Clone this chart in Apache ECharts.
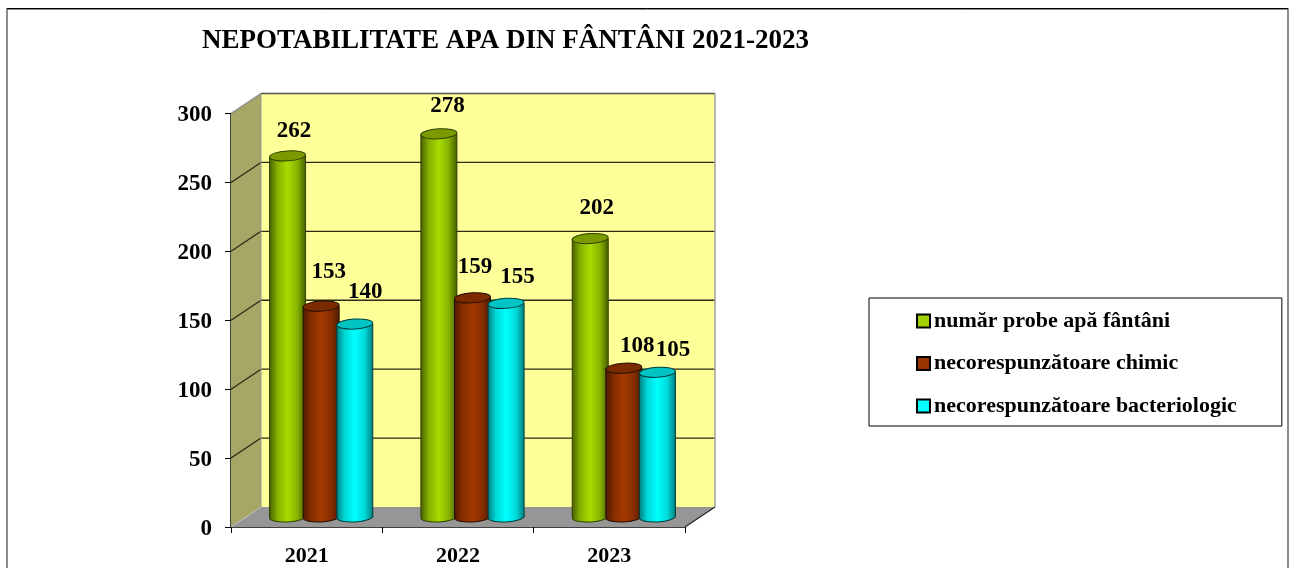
<!DOCTYPE html>
<html>
<head>
<meta charset="utf-8">
<title>Nepotabilitate apa din fantani</title>
<script src="https://cdn.jsdelivr.net/npm/echarts@6/dist/echarts.min.js"></script>
<style>
  html, body { margin: 0; padding: 0; background: #fff; overflow: hidden; }
  #chart { width: 1293px; height: 568px; }
</style>
</head>
<body>
<div id="chart"></div>
<script>
const categories = ['2021', '2022', '2023']
const seriesNames = ['număr probe apă fântâni', 'necorespunzătoare chimic', 'necorespunzătoare bacteriologic']
const probe = [262, 278, 202]
const chimic = [153, 159, 108]
const bacteriologic = [140, 155, 105]
const yTicks = [0, 50, 100, 150, 200, 250, 300]

// hand placement of the value labels, relative to the top of each cylinder
const labelShiftX = [[6.5, 8.5, 6.5], [7.5, 2.5, 13.5], [10.5, 11.5, 15.5]]
const labelShiftY = [[-25, -28, -31], [-34, -31, -22], [-32, -26, -22]]

const FONT = '"Liberation Serif", "Times New Roman", serif'
const DX = 29 // depth of the fake 3d box, the cylinders stand a bit left of centre
const DY = -20
const PITCH = 33.6
const BAR_W = 36
const RY = 5
const TILT = 0.06

const palette = [
  { legend: '#a0d000', top: '#7a9a00', edge: '#2f4000', stops: ['#4a6200', '#86b000', '#a8dc00', '#86b000', '#466000'] },
  { legend: '#993300', top: '#7c2a00', edge: '#241000', stops: ['#4f1a00', '#862c00', '#a23a00', '#862c00', '#4f1a00'] },
  { legend: '#00ffff', top: '#00c4c4', edge: '#003c3c', stops: ['#008080', '#00d8d8', '#00ffff', '#00d8d8', '#008080'] }
]
const values = [probe, chimic, bacteriologic]

function gradient(stops) {
  return new echarts.graphic.LinearGradient(0, 0, 1, 0, [
    { offset: 0, color: stops[0] },
    { offset: 0.22, color: stops[1] },
    { offset: 0.5, color: stops[2] },
    { offset: 0.78, color: stops[3] },
    { offset: 1, color: stops[4] }
  ])
}

function poly(points, fill, z2) {
  return { type: 'polygon', z2: z2, shape: { points: points }, style: { fill: fill, stroke: null } }
}

function seg(x1, y1, x2, y2, color, width, z2) {
  return { type: 'line', z2: z2 || 2, shape: { x1: x1, y1: y1, x2: x2, y2: y2 }, style: { stroke: color, lineWidth: width || 1 } }
}

// walls, floor and the gridlines that run across them
function renderBox(params, api) {
  const first = api.coord([0, 0])
  const band = api.size([1, 0])[0]
  const left = first[0] - band / 2
  const right = left + band * categories.length
  const y0 = first[1]
  const y1 = api.coord([0, 300])[1]
  const bx = 30
  const children = [
    poly([[left + bx, y1 + DY], [right + bx, y1 + DY], [right + bx, y0 + DY], [left + bx, y0 + DY]], '#ffff99', 0),
    poly([[left, y1], [left + bx, y1 + DY], [left + bx, y0 + DY], [left, y0]], '#a6a666', 0),
    poly([[left, y0], [left + bx, y0 + DY], [right + bx, y0 + DY], [right, y0]], '#969696', 0)
  ]
  yTicks.forEach(function(t) {
    if (t === 0) return
    const y = api.coord([0, t])[1]
    const col = t === 300 ? '#8a8a8a' : '#2b2b16'
    children.push(seg(left, y, left + bx, y + DY, col, 1.3))
    children.push(seg(left + bx, y + DY, right + bx, y + DY, t === 300 ? '#555' : '#2b2b16', 1.3))
  })
  children.push(seg(left + bx, y1 + DY, left + bx, y0 + DY, '#9a9a9a', 1))
  children.push(seg(right + bx, y1 + DY, right + bx, y0 + DY, '#a0a0a0', 1.5))
  children.push(seg(left, y0, left + bx, y0 + DY, '#bdbdbd', 1))
  children.push(seg(right, y0, right + bx, y0 + DY, '#222', 1.2))
  return { type: 'group', children: children }
}

function barGeom(api, idx) {
  const cat = api.value(0)
  const base = api.coord([cat, 0])
  const top = api.coord([cat, api.value(1)])
  return {
    cx: base[0] + DX / 2 + (idx - 1) * PITCH,
    yBase: base[1] + DY / 2,
    yTop: top[1] + DY / 2
  }
}

function rim(cx, cy, fill, stroke, z2) {
  return {
    type: 'ellipse',
    z2: z2,
    x: cx,
    y: cy,
    rotation: TILT,
    shape: { cx: 0, cy: 0, rx: BAR_W / 2, ry: RY },
    style: { fill: fill, stroke: stroke, lineWidth: 1 }
  }
}

function renderBody(idx) {
  return function(params, api) {
    const g = barGeom(api, idx)
    const p = palette[idx]
    const x = g.cx - BAR_W / 2
    const fill = gradient(p.stops)
    return {
      type: 'group',
      children: [
        rim(g.cx, g.yBase, fill, p.edge, 1),
        { type: 'rect', z2: 2, shape: { x: x, y: g.yTop, width: BAR_W, height: g.yBase - g.yTop }, style: { fill: fill, stroke: null } },
        seg(x, g.yTop, x, g.yBase, p.edge, 1, 3),
        seg(x + BAR_W, g.yTop, x + BAR_W, g.yBase, p.edge, 1, 3)
      ]
    }
  }
}

function renderTop(idx) {
  return function(params, api) {
    const g = barGeom(api, idx)
    const p = palette[idx]
    return {
      type: 'group',
      children: [
        rim(g.cx, g.yTop, p.top, p.edge, 1),
        {
          type: 'text',
          z2: 5,
          style: {
            text: String(api.value(1)),
            x: g.cx + labelShiftX[idx][params.dataIndex],
            y: g.yTop + labelShiftY[idx][params.dataIndex],
            align: 'center',
            verticalAlign: 'middle',
            fontFamily: FONT,
            fontWeight: 'bold',
            fontSize: 23,
            fill: '#000'
          }
        }
      ]
    }
  }
}

const series = [{
  type: 'custom',
  name: 'box',
  z: 1,
  silent: true,
  clip: false,
  renderItem: renderBox,
  encode: { x: 0, y: 1 },
  data: [[0, 0]]
}]
values.forEach(function(arr, idx) {
  const data = arr.map(function(v, i) { return [i, v] })
  series.push({ type: 'custom', name: seriesNames[idx], z: 3 + idx, clip: false, renderItem: renderBody(idx), encode: { x: 0, y: 1 }, data: data })
})
// tops go in reverse order, the taller neighbour's rim sits over the next one
values.forEach(function(arr, idx) {
  const data = arr.map(function(v, i) { return [i, v] })
  series.push({ type: 'custom', name: seriesNames[idx], z: 8 - idx, clip: false, renderItem: renderTop(idx), encode: { x: 0, y: 1 }, data: data })
})

const chart = echarts.init(document.getElementById('chart'), null, { renderer: 'canvas' })
chart.setOption({
  animation: false,
  backgroundColor: '#fff',
  title: {
    text: 'NEPOTABILITATE APA DIN FÂNTÂNI 2021-2023',
    left: 202,
    top: 28,
    padding: 0,
    textStyle: { fontFamily: FONT, fontWeight: 'bold', fontSize: 27, color: '#000' }
  },
  legend: {
    orient: 'vertical',
    left: 869,
    top: 298,
    padding: [12, 45, 9, 47],
    itemGap: 20.5,
    itemWidth: 13,
    itemHeight: 13,
    borderColor: '#000',
    borderWidth: 1,
    selectedMode: false,
    textStyle: { fontFamily: FONT, fontWeight: 'bold', fontSize: 22, color: '#000', padding: [0, 0, 0, -1] },
    data: seriesNames.map(function(n, i) {
      return { name: n, icon: 'rect', itemStyle: { color: palette[i].legend, borderColor: '#000', borderWidth: 2 } }
    })
  },
  grid: { left: 231, right: 608, top: 113.5, bottom: 41 },
  xAxis: {
    type: 'category',
    data: categories,
    axisLine: { show: true, lineStyle: { color: '#000', width: 1.5 } },
    axisTick: { show: true, length: 6, lineStyle: { color: '#000', width: 1 } },
    axisLabel: { margin: 18, fontFamily: FONT, fontWeight: 'bold', fontSize: 22, color: '#000' }
  },
  yAxis: {
    type: 'value',
    min: 0,
    max: 300,
    interval: 50,
    axisLine: { show: true, lineStyle: { color: '#000', width: 1.5 } },
    axisTick: { show: true, length: 6, lineStyle: { color: '#000', width: 1 } },
    // top aligned with a tiny line box: drops the digits about 2px under the tick
    axisLabel: { margin: 19, fontFamily: FONT, fontWeight: 'bold', fontSize: 23, color: '#000', verticalAlign: 'top', lineHeight: 4 },
    splitLine: { show: false }
  },
  graphic: [{
    type: 'polyline',
    silent: true,
    shape: { points: [[7, 568], [7, 9], [1288, 9], [1288, 568]] },
    style: { fill: null, stroke: '#666', lineWidth: 1.5 }
  }, {
    type: 'line',
    silent: true,
    shape: { x1: 7, y1: 8.5, x2: 1288, y2: 8.5 },
    style: { stroke: '#000', lineWidth: 1 }
  }],
  series: series
})
</script>
</body>
</html>
